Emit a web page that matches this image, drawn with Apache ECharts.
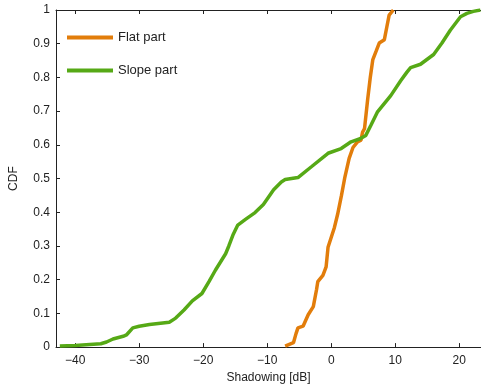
<!DOCTYPE html>
<html>
<head>
<meta charset="utf-8">
<script src="https://cdn.jsdelivr.net/npm/echarts@6/dist/echarts.min.js"></script>
<style>
  html, body { margin: 0; padding: 0; background: #fff; }
  #chart { width: 481px; height: 389px; }
</style>
</head>
<body>
<div id="chart"></div>
<script>
// values
const xTicks = [-40, -30, -20, -10, 0, 10, 20];

const flatX = [-7.2, -5.9, -5.5, -5.2, -4.4, -3.6, -2.8, -2.3, -2.1, -1.3, -0.8, -0.5, -0.25, 0.5, 1.0, 1.6, 2.1, 2.8, 3.4, 4.1, 4.65, 4.9, 5.2, 5.7, 6.1, 6.5, 7.0, 7.5, 8.3, 8.7, 9.05, 9.7];
const flatY = [0.003, 0.013, 0.04, 0.057, 0.062, 0.096, 0.12, 0.17, 0.194, 0.213, 0.238, 0.296, 0.3, 0.355, 0.394, 0.45, 0.501, 0.56, 0.592, 0.609, 0.614, 0.638, 0.648, 0.736, 0.8, 0.853, 0.877, 0.902, 0.912, 0.951, 0.985, 1.0];

const slopeX = [-42.4, -40, -36, -35.1, -34.1, -32.5, -32, -31, -30, -28.4, -25.3, -24.3, -23, -21.7, -20.2, -19.1, -18.1, -16.5, -16, -15.3, -14.6, -13.4, -11.9, -10.6, -9.0, -7.8, -7.2, -5.2, -3.1, -0.5, 1.55, 3.1, 4.5, 5.4, 6.2, 7.2, 9.3, 10.85, 11.8, 12.4, 13.95, 16.0, 17.3, 18.6, 20.2, 21.2, 22.2, 23.3];
const slopeY = [0.003, 0.005, 0.01, 0.015, 0.024, 0.032, 0.036, 0.057, 0.062, 0.067, 0.074, 0.086, 0.11, 0.137, 0.159, 0.194, 0.228, 0.277, 0.3, 0.335, 0.362, 0.379, 0.399, 0.423, 0.467, 0.49, 0.497, 0.503, 0.535, 0.575, 0.589, 0.609, 0.618, 0.628, 0.658, 0.697, 0.746, 0.79, 0.815, 0.829, 0.839, 0.868, 0.902, 0.94, 0.98, 0.99, 0.996, 1.0];

const zip = (xs, ys) => xs.map((x, i) => [x, ys[i]]);

const fontFamily = 'Liberation Sans, Arial, sans-serif';
const axisColor = '#222';

const chart = echarts.init(document.getElementById('chart'), null, { renderer: 'canvas' });

const option = {
  backgroundColor: '#fff',
  animation: false,
  textStyle: { fontFamily: fontFamily },
  grid: { left: 53, right: 0, top: 10, bottom: 38, containLabel: false },
  legend: {
    orient: 'vertical',
    left: 62,
    top: 26,
    itemGap: 20,
    itemWidth: 46,
    itemHeight: 4,
    icon: 'rect',
    textStyle: { color: axisColor, fontSize: 13, fontFamily: fontFamily },
    data: ['Flat part', 'Slope part'],
  },
  xAxis: [
    {
      type: 'value',
      min: -43,
      max: 23.4,
      name: 'Shadowing [dB]',
      nameLocation: 'middle',
      nameGap: 24,
      nameTextStyle: { color: axisColor, fontSize: 12 },
      axisLine: { onZero: false, lineStyle: { color: axisColor, width: 1 } },
      axisTick: { inside: true, length: 4, customValues: xTicks, lineStyle: { color: axisColor } },
      axisLabel: {
        customValues: xTicks,
        color: axisColor,
        fontSize: 12,
        margin: 8,
        formatter: (v) => (v < 0 ? '\u2212' + Math.abs(v) : String(v)),
      },
      splitLine: { show: false },
    },
    {
      type: 'value',
      position: 'top',
      min: -43,
      max: 23.4,
      axisLine: { onZero: false, lineStyle: { color: axisColor, width: 1 } },
      axisTick: { inside: true, length: 4, customValues: xTicks, lineStyle: { color: axisColor } },
      axisLabel: { show: false },
      splitLine: { show: false },
    },
  ],
  yAxis: {
    type: 'value',
    min: 0,
    max: 1,
    interval: 0.1,
    name: 'CDF',
    nameLocation: 'middle',
    nameGap: 36,
    nameTextStyle: { color: axisColor, fontSize: 12 },
    axisLine: { show: true, onZero: false, lineStyle: { color: axisColor, width: 1 } },
    axisTick: { show: true, inside: true, length: 4, lineStyle: { color: axisColor } },
    axisLabel: {
      color: axisColor,
      fontSize: 12,
      margin: 6,
      formatter: (v) => String(Math.round(v * 10) / 10),
    },
    splitLine: { show: false },
  },
  series: [
    {
      name: 'Flat part',
      type: 'line',
      showSymbol: false,
      lineStyle: { color: '#e27d0b', width: 3.5 },
      itemStyle: { color: '#e27d0b' },
      data: zip(flatX, flatY),
    },
    {
      name: 'Slope part',
      type: 'line',
      showSymbol: false,
      lineStyle: { color: '#56a916', width: 3.5 },
      itemStyle: { color: '#56a916' },
      data: zip(slopeX, slopeY),
    },
  ],
};

chart.setOption(option);
</script>
</body>
</html>
